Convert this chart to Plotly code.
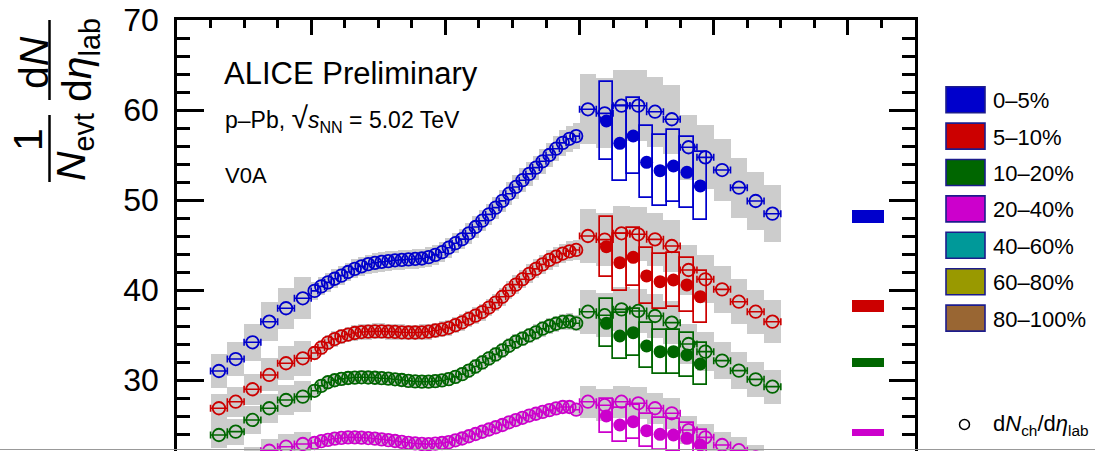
import plotly.graph_objects as go

# ---------------- data ----------------
ETA_LEFT = [-3.375, -3.125, -2.875, -2.625, -2.375, -2.125]
ETA_DENSE = [-1.95, -1.85, -1.75, -1.65, -1.55, -1.45, -1.35, -1.25, -1.15, -1.05,
             -0.95, -0.85, -0.75, -0.65, -0.55, -0.45, -0.35, -0.25, -0.15, -0.05,
             0.05, 0.15, 0.25, 0.35, 0.45, 0.55, 0.65, 0.75, 0.85, 0.95,
             1.05, 1.15, 1.25, 1.35, 1.45, 1.55, 1.65, 1.75, 1.85, 1.95]
ETA_RIGHT = [2.125, 2.375, 2.625, 2.875, 3.125, 3.375, 3.625, 3.875, 4.125, 4.375, 4.625, 4.875]
ETA_FILLED = [2.4, 2.6, 2.8, 3.0, 3.2, 3.4, 3.6, 3.8]

BLUE_LEFT = [31.0, 32.33, 34.19, 36.48, 37.97, 39.08]
BLUE_DENSE = [39.9, 40.4, 40.85, 41.25, 41.6, 42.0, 42.35, 42.63, 42.87, 43.02,
              43.13, 43.21, 43.3, 43.35, 43.4, 43.45, 43.5, 43.65, 43.9, 44.2,
              44.7, 45.2, 45.65, 46.3, 47.0, 47.7, 48.4, 49.15, 49.9, 50.7,
              51.45, 52.2, 52.9, 53.6, 54.3, 55.0, 55.7, 56.35, 56.8, 57.1]
BLUE_RIGHT = [60.08, 59.63, 60.48, 60.48, 59.81, 58.97, 55.86, 54.74, 53.33, 51.37, 49.89, 48.48]
BLUE_FILLED = [58.78, 56.3, 57.11, 54.19, 53.26, 53.78, 53.08, 51.56]

RED_LEFT = [26.86, 27.59, 28.97, 30.56, 31.86, 32.41]
RED_DENSE = [33.0, 33.6, 34.15, 34.55, 34.85, 35.05, 35.22, 35.33, 35.38, 35.4,
             35.4, 35.38, 35.35, 35.3, 35.28, 35.28, 35.3, 35.38, 35.5, 35.62,
             35.8, 36.1, 36.4, 36.8, 37.15, 37.55, 38.05, 38.6, 39.25, 39.95,
             40.6, 41.2, 41.8, 42.35, 42.85, 43.35, 43.7, 44.05, 44.3, 44.45]
RED_RIGHT = [46.0, 45.6, 46.3, 46.19, 45.63, 44.89, 42.22, 41.19, 40.07, 38.7, 37.59, 36.48]
RED_FILLED = [44.81, 43.04, 43.63, 41.56, 40.93, 41.11, 40.56, 39.26]

GREEN_LEFT = [23.89, 24.26, 25.56, 26.86, 27.78, 28.15]
GREEN_DENSE = [28.8, 29.35, 29.75, 29.97, 30.12, 30.22, 30.27, 30.3, 30.28, 30.25,
               30.2, 30.15, 30.08, 30.0, 29.9, 29.85, 29.82, 29.82, 29.87, 29.95,
               30.1, 30.35, 30.65, 31.05, 31.5, 31.95, 32.4, 32.85, 33.3, 33.8,
               34.25, 34.6, 34.95, 35.3, 35.7, 36.0, 36.25, 36.45, 36.5, 36.3]
GREEN_RIGHT = [37.59, 37.2, 37.85, 37.67, 37.11, 36.37, 34.0, 33.15, 32.15, 31.04, 30.07, 29.26]
GREEN_FILLED = [36.3, 34.89, 35.26, 33.78, 33.15, 33.15, 32.78, 31.78]

MAG_LEFT = [19.6, 20.3, 21.3, 22.14, 22.59, 22.89]
MAG_DENSE = [23.0, 23.2, 23.35, 23.48, 23.56, 23.62, 23.63, 23.6, 23.55, 23.48,
             23.4, 23.32, 23.22, 23.12, 23.02, 22.95, 22.9, 22.88, 22.92, 23.0,
             23.1, 23.3, 23.5, 23.75, 24.0, 24.25, 24.5, 24.75, 25.0, 25.3,
             25.55, 25.8, 26.05, 26.25, 26.45, 26.65, 26.85, 27.0, 27.0, 26.7]
MAG_RIGHT = [27.59, 27.2, 27.59, 27.41, 26.86, 26.3, 24.44, 23.63, 22.78, 22.2, 21.4, 20.7]
MAG_FILLED = [26.0, 25.0, 25.37, 24.37, 23.96, 23.89, 23.52, 22.78]

# relative systematic uncertainties
SYS_LEFT = 0.06
SYS_DENSE = 0.025
SYS_RIGHT = 0.065
SYS_FILLED = 0.074

# short reference bars at the right
REF_ETA = 6.3
REF_VAL = [48.17, 38.22, 32.0, 24.2]
REF_HALF = [0.72, 0.67, 0.5, 0.4]

LEGEND_LABELS = ["0–5%", "5–10%", "10–20%", "20–40%", "40–60%", "60–80%", "80–100%"]
LEGEND_COLORS = ["#0000cc", "#cc0000", "#006600", "#cc00cc", "#009999", "#999900", "#996633"]

Y_TICKS = [30, 40, 50, 60, 70]

# ---------------- figure ----------------
W, H = 1095, 451
L, R, T, B = 177, 180, 20, 0
PW, PH = W - L - R, H - T - B
FONT = "Liberation Sans, Arial, Helvetica, sans-serif"
GRAY = "#cccccc"


def px2x(px):
    return (px - L) / PW


def py2y(py):
    return 1 - (py - T) / PH


series = [
    (LEGEND_COLORS[0], BLUE_LEFT, BLUE_DENSE, BLUE_RIGHT, BLUE_FILLED),
    (LEGEND_COLORS[1], RED_LEFT, RED_DENSE, RED_RIGHT, RED_FILLED),
    (LEGEND_COLORS[2], GREEN_LEFT, GREEN_DENSE, GREEN_RIGHT, GREEN_FILLED),
    (LEGEND_COLORS[3], MAG_LEFT, MAG_DENSE, MAG_RIGHT, MAG_FILLED),
]

fig = go.Figure()

# gray systematic boxes
for col, left, dense, right, filled in series:
    for etas, vals, rel, w in [(ETA_LEFT, left, SYS_LEFT, 0.25),
                               (ETA_DENSE, dense, SYS_DENSE, 0.1),
                               (ETA_RIGHT, right, SYS_RIGHT, 0.25)]:
        fig.add_trace(go.Bar(
            x=etas, y=[2 * v * rel for v in vals], base=[v - v * rel for v in vals],
            width=[w] * len(etas), marker=dict(color=GRAY, line=dict(width=0)),
            showlegend=False, hoverinfo="skip"))

# open boxes around filled points
for col, left, dense, right, filled in series:
    fig.add_trace(go.Bar(
        x=ETA_FILLED, y=[2 * v * SYS_FILLED for v in filled],
        base=[v - v * SYS_FILLED for v in filled], width=[0.2] * len(filled),
        marker=dict(color="rgba(0,0,0,0)", line=dict(color=col, width=1.7)),
        showlegend=False, hoverinfo="skip"))

# reference bars at right
for col, v, h in zip(LEGEND_COLORS[:4], REF_VAL, REF_HALF):
    fig.add_trace(go.Bar(x=[REF_ETA], y=[2 * h], base=[v - h], width=[0.49],
                         marker=dict(color=col, line=dict(width=0)),
                         showlegend=False, hoverinfo="skip"))

# open circles
for col, left, dense, right, filled in series:
    for etas, vals, ex in [(ETA_LEFT, left, 0.125), (ETA_DENSE, dense, 0.05),
                           (ETA_RIGHT, right, 0.125)]:
        fig.add_trace(go.Scatter(
            x=etas, y=vals, mode="markers",
            marker=dict(symbol="circle-open", size=12.5, color=col, line=dict(width=1.8)),
            error_x=dict(type="constant", value=ex, color=col, thickness=1.6, width=3.5),
            showlegend=False, hoverinfo="skip"))
    fig.add_trace(go.Scatter(
        x=ETA_FILLED, y=filled, mode="markers",
        marker=dict(symbol="circle", size=13, color=col),
        showlegend=False, hoverinfo="skip"))

# dummy trace for right axis
fig.add_trace(go.Scatter(x=[None], y=[None], yaxis="y2", showlegend=False))

yr = [70 - (H - T) / 9.0, 70]

fig.update_layout(
    width=W, height=H,
    margin=dict(l=L, r=R, t=T, b=B, autoexpand=False),
    paper_bgcolor="white", plot_bgcolor="white",
    barmode="overlay", bargap=0,
    showlegend=False,
    font=dict(family=FONT, color="black"),
    xaxis=dict(range=[-4, 7], side="top", showticklabels=False, showgrid=False,
               zeroline=False, showline=True, linecolor="black", linewidth=2.5,
               ticks="inside", tick0=0, dtick=2, ticklen=15, tickwidth=2.5, tickcolor="black",
               minor=dict(ticks="inside", dtick=0.5, ticklen=8, tickwidth=2.5, tickcolor="black")),
    yaxis=dict(range=yr, showgrid=False, zeroline=False, showline=True, linecolor="black",
               linewidth=2.5, ticks="inside", tickvals=Y_TICKS, ticklen=27, tickwidth=2.5,
               tickcolor="black", ticklabelstandoff=9,
               tickfont=dict(size=32, family=FONT, color="black"),
               minor=dict(ticks="inside", dtick=2, tick0=0, ticklen=13, tickwidth=2.5,
                          tickcolor="black")),
    yaxis2=dict(range=yr, overlaying="y", side="right", anchor="x", showgrid=False,
                zeroline=False, showline=True, linecolor="black", linewidth=2.5,
                showticklabels=False, ticks="inside", tickvals=Y_TICKS, ticklen=26,
                tickwidth=2.5, tickcolor="black",
                minor=dict(ticks="inside", dtick=2, tick0=0, ticklen=13, tickwidth=2.5,
                           tickcolor="black")),
)

ann = []
shapes = []

# texts in plot
ann.append(dict(text="ALICE Preliminary", x=px2x(222), y=py2y(73), xref="paper", yref="paper",
                xanchor="left", yanchor="middle", showarrow=False, font=dict(size=31)))
ann.append(dict(text="p–Pb, <span style=\"font-size:30px\">√</span><i>s</i><sub>NN</sub> = 5.02 TeV",
                x=px2x(223), y=py2y(118),
                xref="paper", yref="paper", xanchor="left", yanchor="middle", showarrow=False,
                font=dict(size=23)))
ann.append(dict(text="V0A", x=px2x(223), y=py2y(175), xref="paper", yref="paper",
                xanchor="left", yanchor="middle", showarrow=False, font=dict(size=22)))

# y-axis title built from fractions
ann.append(dict(text="d<i>N</i>", x=px2x(34), y=py2y(63), xref="paper", yref="paper",
                xanchor="center", yanchor="middle", textangle=-90, showarrow=False,
                font=dict(size=41)))
ann.append(dict(text="d<i>η</i><sub>lab</sub>", x=px2x(80), y=py2y(60), xref="paper",
                yref="paper", xanchor="center", yanchor="middle", textangle=-90,
                showarrow=False, font=dict(size=41)))
ann.append(dict(text="1", x=px2x(28), y=py2y(140), xref="paper", yref="paper",
                xanchor="center", yanchor="middle", textangle=-90, showarrow=False,
                font=dict(size=41)))
ann.append(dict(text="<i>N</i><sub>evt</sub>", x=px2x(74), y=py2y(147), xref="paper",
                yref="paper", xanchor="center", yanchor="middle", textangle=-90,
                showarrow=False, font=dict(size=41)))
shapes.append(dict(type="line", xref="paper", yref="paper", x0=px2x(49.5), x1=px2x(49.5),
                   y0=py2y(20), y1=py2y(100), line=dict(color="black", width=2.5)))
shapes.append(dict(type="line", xref="paper", yref="paper", x0=px2x(49.5), x1=px2x(49.5),
                   y0=py2y(115), y1=py2y(182), line=dict(color="black", width=2.5)))

# legend
for i, (lab, col) in enumerate(zip(LEGEND_LABELS, LEGEND_COLORS)):
    cy = 99.7 + i * 36.4
    shapes.append(dict(type="rect", xref="paper", yref="paper",
                       x0=px2x(946), x1=px2x(985), y0=py2y(cy - 13), y1=py2y(cy + 13),
                       fillcolor=col, line=dict(color="#1c1c8c", width=1.6)))
    ann.append(dict(text=lab, x=px2x(991), y=py2y(cy + 1), xref="paper", yref="paper",
                    xanchor="left", yanchor="middle", showarrow=False, font=dict(size=22)))

shapes.append(dict(type="circle", xref="paper", yref="paper",
                   x0=px2x(959.5), x1=px2x(969.5), y0=py2y(419.5), y1=py2y(429.5),
                   line=dict(color="black", width=1.5)))
ann.append(dict(text="d<i>N</i><sub>ch</sub>/d<i>η</i><sub>lab</sub>", x=px2x(991), y=py2y(425),
                xref="paper", yref="paper", xanchor="left", yanchor="middle",
                showarrow=False, font=dict(size=22)))

# thin gray border line at the very bottom
shapes.append(dict(type="line", xref="paper", yref="paper", x0=-L / PW, x1=(W - L) / PW,
                   y0=py2y(449.5), y1=py2y(449.5), line=dict(color="#999999", width=1)))

fig.update_layout(annotations=ann, shapes=shapes)

fig.write_html("out.html")
